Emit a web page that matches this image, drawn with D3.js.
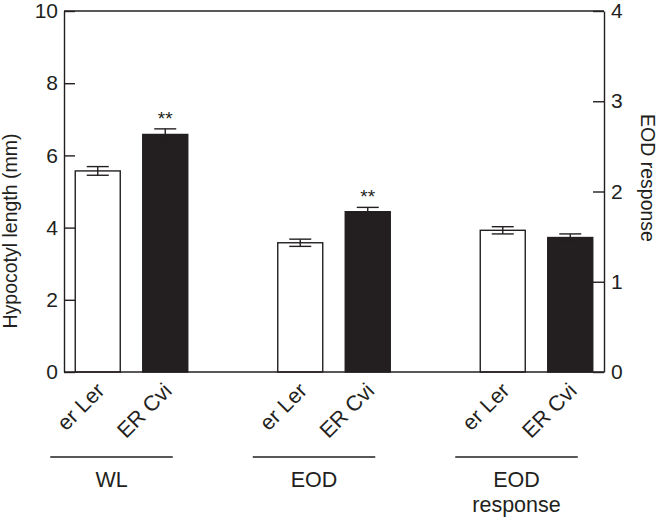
<!DOCTYPE html>
<html lang="en">
  <head>
    <meta charset="UTF-8" />
    <title>Hypocotyl length and EOD response</title>
    <script src="https://d3js.org/d3.v7.min.js"></script>
    <style>
      body {
        margin: 0;
        background: #fff;
        font-family: "Liberation Sans", Arial, Helvetica, sans-serif;
      }
      svg text {
        fill: #231f20;
      }
    </style>
  </head>

  <body>
    <div id="chart-container"></div>

    <script>
      // data
      const genotypes = ["er Ler", "ER Cvi"]
      const conditions = ["WL", "EOD", "EOD response"]
      const conditionLines = [["WL"], ["EOD"], ["EOD", "response"]]
      const useRightAxis = [false, false, true]
      const means = [
        [5.57, 6.58],
        [3.58, 4.44],
        [1.57, 1.49]
      ]
      const errors = [
        [0.12, 0.155],
        [0.1, 0.12],
        [0.04, 0.04]
      ]
      const stars = [
        ["", "**"],
        ["", "**"],
        ["", ""]
      ]
      const leftTicks = [0, 2, 4, 6, 8, 10]
      const rightTicks = [0, 1, 2, 3, 4]
      const barFills = ["#fff", "#231f20"]

      const width = 662,
        height = 519
      const plot = { left: 64, right: 604, top: 11, bottom: 372 }
      const ink = "#231f20"
      const fontSize = 21.5

      const svg = d3
        .select("#chart-container")
        .append("svg")
        .attr("width", width)
        .attr("height", height)
        .style("font-family", '"Liberation Sans", Arial, Helvetica, sans-serif')

      // 8 slots: two bars per condition with an empty slot between groups
      const slots = []
      conditions.forEach((c, i) => {
        genotypes.forEach(g => slots.push(c + "|" + g))
        if (i < conditions.length - 1) slots.push("gap" + i)
      })

      const x = d3
        .scaleBand()
        .domain(slots)
        .range([plot.left, plot.right])
        .paddingInner(1 / 3)
        .paddingOuter(1 / 6)

      const yLeft = d3.scaleLinear().domain([0, 10]).range([plot.bottom, plot.top])
      const yRight = d3.scaleLinear().domain([0, 4]).range([plot.bottom, plot.top])

      const rows = []
      conditions.forEach((c, i) => {
        genotypes.forEach((g, j) => {
          rows.push({
            condition: c,
            genotype: g,
            key: c + "|" + g,
            value: means[i][j],
            err: errors[i][j],
            star: stars[i][j],
            fill: barFills[j],
            y: useRightAxis[i] ? yRight : yLeft
          })
        })
      })

      // bars
      svg
        .selectAll(".bar")
        .data(rows)
        .join("rect")
        .attr("class", "bar")
        .attr("x", d => x(d.key))
        .attr("width", x.bandwidth())
        .attr("y", d => d.y(d.value))
        .attr("height", d => plot.bottom - d.y(d.value))
        .attr("fill", d => d.fill)
        .attr("stroke", ink)
        .attr("stroke-width", 1.4)

      // error bars
      const capHalf = 11
      const eb = svg.selectAll(".err").data(rows).join("g").attr("class", "err")
      eb.append("line")
        .attr("x1", d => x(d.key) + x.bandwidth() / 2)
        .attr("x2", d => x(d.key) + x.bandwidth() / 2)
        .attr("y1", d => d.y(d.value + d.err))
        .attr("y2", d => d.y(d.value - d.err))
      eb.append("line")
        .attr("x1", d => x(d.key) + x.bandwidth() / 2 - capHalf)
        .attr("x2", d => x(d.key) + x.bandwidth() / 2 + capHalf)
        .attr("y1", d => d.y(d.value + d.err))
        .attr("y2", d => d.y(d.value + d.err))
      eb.append("line")
        .attr("x1", d => x(d.key) + x.bandwidth() / 2 - capHalf)
        .attr("x2", d => x(d.key) + x.bandwidth() / 2 + capHalf)
        .attr("y1", d => d.y(d.value - d.err))
        .attr("y2", d => d.y(d.value - d.err))
      eb.selectAll("line").attr("stroke", ink).attr("stroke-width", 1.4)

      // significance stars
      svg
        .selectAll(".star")
        .data(rows.filter(d => d.star))
        .join("text")
        .attr("class", "star")
        .attr("x", d => x(d.key) + x.bandwidth() / 2)
        .attr("y", d => d.y(d.value + d.err) - 4)
        .attr("text-anchor", "middle")
        .attr("font-size", 19)
        .text(d => d.star)

      // frame: top and bottom lines
      svg
        .append("line")
        .attr("x1", plot.left)
        .attr("x2", plot.right)
        .attr("y1", plot.top)
        .attr("y2", plot.top)
        .attr("stroke", ink)
        .attr("stroke-width", 1.4)
      svg
        .append("line")
        .attr("x1", plot.left)
        .attr("x2", plot.right)
        .attr("y1", plot.bottom)
        .attr("y2", plot.bottom)
        .attr("stroke", ink)
        .attr("stroke-width", 1.4)

      // axes with inward ticks
      const leftAxis = svg
        .append("g")
        .attr("transform", `translate(${plot.left},0)`)
        .call(d3.axisLeft(yLeft).tickValues(leftTicks).tickSizeInner(-11).tickSizeOuter(0).tickPadding(6))
      const rightAxis = svg
        .append("g")
        .attr("transform", `translate(${plot.right},0)`)
        .call(
          d3
            .axisRight(yRight)
            .tickValues(rightTicks)
            .tickFormat(d3.format("d"))
            .tickSizeInner(-11)
            .tickSizeOuter(0)
            .tickPadding(7)
        )

      ;[leftAxis, rightAxis].forEach(a => {
        a.attr("font-size", 21).attr("font-family", null)
        a.selectAll("path, line").attr("stroke", ink).attr("stroke-width", 1.4)
        a.selectAll("text").attr("fill", ink)
      })

      // axis titles
      svg
        .append("text")
        .attr("transform", "translate(17,231) rotate(-90)")
        .attr("text-anchor", "middle")
        .attr("font-size", 19.5)
        .text("Hypocotyl length (mm)")

      svg
        .append("text")
        .attr("transform", "translate(641,178) rotate(90)")
        .attr("text-anchor", "middle")
        .attr("font-size", 19.5)
        .text("EOD response")

      // rotated genotype labels
      svg
        .selectAll(".geno")
        .data(rows)
        .join("text")
        .attr("class", "geno")
        .attr("text-anchor", "end")
        .attr("font-size", fontSize)
        .attr("transform", d => `translate(${x(d.key) + x.bandwidth() / 2 + 8},392) rotate(-45)`)
        .text(d => d.genotype)

      // condition group lines and labels
      conditions.forEach((c, i) => {
        const first = x(c + "|" + genotypes[0])
        const last = x(c + "|" + genotypes[genotypes.length - 1]) + x.bandwidth()
        const x1 = first - 25,
          x2 = last - 15
        svg
          .append("line")
          .attr("x1", x1)
          .attr("x2", x2)
          .attr("y1", 457)
          .attr("y2", 457)
          .attr("stroke", ink)
          .attr("stroke-width", 1.4)
        const label = svg
          .append("text")
          .attr("x", (x1 + x2) / 2)
          .attr("y", 487)
          .attr("text-anchor", "middle")
          .attr("font-size", fontSize)
        conditionLines[i].forEach((t, k) => {
          label
            .append("tspan")
            .attr("x", (x1 + x2) / 2)
            .attr("dy", k === 0 ? 0 : 25)
            .text(t)
        })
      })
    </script>
  </body>
</html>
